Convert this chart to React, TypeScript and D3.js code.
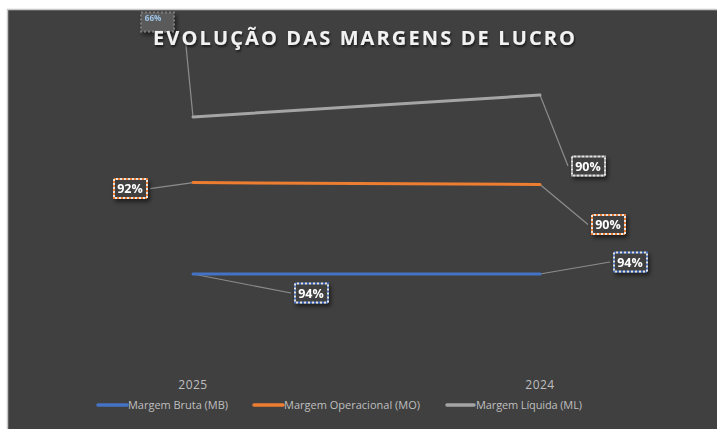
import React from "react";
import * as d3 from "d3";

const categories = ["2025", "2024"];
const seriesNames = ["Margem Bruta (MB)", "Margem Operacional (MO)", "Margem Líquida (ML)"];
const mbValues = [94, 94];
const moValues = [92, 90];
const mlValues = [66, 90];
const colors = ["#4472c4", "#ed7d31", "#a5a5a5"];
const titleText = "EVOLUÇÃO DAS MARGENS DE LUCRO";

// label offsets (layout) relative to point: [series][category]
const labelOffsets = [
  [[118, 19], [90, -12]],
  [[-63, 6], [68, 40]],
  [[-36, -95], [48, 71]],
];

const W = 717;
const H = 429;

export default function App() {
  const rows = categories.map((c, i) => ({ cat: c, MB: mbValues[i], MO: moValues[i], ML: mlValues[i] }));
  const keys = ["MB", "MO", "ML"];
  const stacked = d3.stack<any>().keys(keys)(rows);

  const x = d3.scalePoint<string>().domain(categories).range([193, 540]);
  const y = d3.scaleLinear().domain([0, 300]).range([367.5, 69.2]);

  const line = d3
    .line<any>()
    .x((d) => x(d.data.cat) as number)
    .y((d) => y(d[1]));

  const legendItems = [
    { x: 98, w: 29, tx: 128, tw: 100 },
    { x: 254, w: 29, tx: 284, tw: 136 },
    { x: 447, w: 27, tx: 476, tw: 106 },
  ];

  return (
    <svg
      width={W}
      height={H}
      style={{ position: "absolute", left: 0, top: 0 }}
      fontFamily="'Open Sans', 'DejaVu Sans', sans-serif"
    >
      <defs>
        <filter id="sh" x="-30%" y="-30%" width="170%" height="190%">
          <feDropShadow dx="2" dy="3" stdDeviation="2" floodColor="#000" floodOpacity="0.55" />
        </filter>
        <filter id="tsh" x="-10%" y="-30%" width="120%" height="170%">
          <feDropShadow dx="1" dy="2" stdDeviation="1.2" floodColor="#000" floodOpacity="0.6" />
        </filter>
      </defs>
      <rect x={0} y={0} width={W} height={H} fill="#ffffff" />
      <rect x={7.5} y={9.5} width={W} height={H} fill="#404040" stroke="#c8c8c8" strokeWidth={1.5} />

      {/* leader lines */}
      {stacked.map((s, si) =>
        s.map((d, ci) => {
          const px = x(d.data.cat) as number;
          const py = y(d[1]);
          const [ox, oy] = labelOffsets[si][ci];
          const lx = px + ox;
          const ly = py + oy;
          const ex = ox > 0 ? lx - 20 : lx + 20;
          const top = si === 2 && ci === 0;
          const ey = top ? ly + 14 : ly;
          const endX = top ? px - 8 : ex;
          return (
            <line key={`ll${si}${ci}`} x1={px} y1={py} x2={endX} y2={ey} stroke="#8c8c8c" strokeWidth={1.2} />
          );
        })
      )}

      {/* series lines */}
      {stacked.map((s, si) => (
        <path key={`p${si}`} d={line(s as any) || ""} fill="none" stroke={colors[si]} strokeWidth={3} strokeLinecap="round" />
      ))}

      {/* data labels */}
      {stacked.map((s, si) =>
        s.map((d, ci) => {
          const px = x(d.data.cat) as number;
          const py = y(d[1]);
          const [ox, oy] = labelOffsets[si][ci];
          const lx = px + ox;
          const ly = py + oy;
          const v = [mbValues, moValues, mlValues][si][ci];
          const small = si === 2 && ci === 0;
          return (
            <g key={`lb${si}${ci}`} filter="url(#sh)">
              <rect
                x={lx - 16}
                y={ly - 9.5}
                width={33}
                height={19}
                fill={small ? "#5a5a5a" : "#404040"}
                stroke={small ? "#7a7a7a" : colors[si]}
                strokeWidth={2}
                strokeDasharray="2,2"
              />
              {!small && (
                <rect
                  x={lx - 16}
                  y={ly - 9.5}
                  width={33}
                  height={19}
                  fill="none"
                  stroke="#ffffff"
                  strokeWidth={2}
                  strokeDasharray="2,2"
                  strokeDashoffset={2}
                  opacity={0.85}
                />
              )}
              <text
                x={small ? lx - 4 : lx}
                y={small ? ly - 1 : ly + 4.5}
                textAnchor="middle"
                fill={small ? "#9fc5e8" : "#ffffff"}
                fontSize={small ? 8 : 12.5}
                fontWeight={700}
              >
                {`${v}%`}
              </text>
            </g>
          );
        })
      )}

      <text
        x={153}
        y={45}
        fill="#f2f2f2"
        fontSize={20}
        fontWeight={700}
        textLength={422}
        lengthAdjust="spacing"
        filter="url(#tsh)"
      >
        {titleText}
      </text>

      {/* category labels */}
      {categories.map((c) => (
        <text key={c} x={x(c) as number} y={389} textAnchor="middle" fill="#bfbfbf" fontSize={12} letterSpacing={0.5}>
          {c}
        </text>
      ))}

      {/* legend */}
      {seriesNames.map((n, i) => (
        <g key={n}>
          <line
            x1={legendItems[i].x}
            x2={legendItems[i].x + legendItems[i].w}
            y1={405}
            y2={405}
            stroke={colors[i]}
            strokeWidth={3.5}
            strokeLinecap="round"
          />
          <text
            x={legendItems[i].tx}
            y={409}
            fill="#bfbfbf"
            fontSize={11}
            textLength={legendItems[i].tw}
            lengthAdjust="spacing"
          >
            {n}
          </text>
        </g>
      ))}
    </svg>
  );
}
